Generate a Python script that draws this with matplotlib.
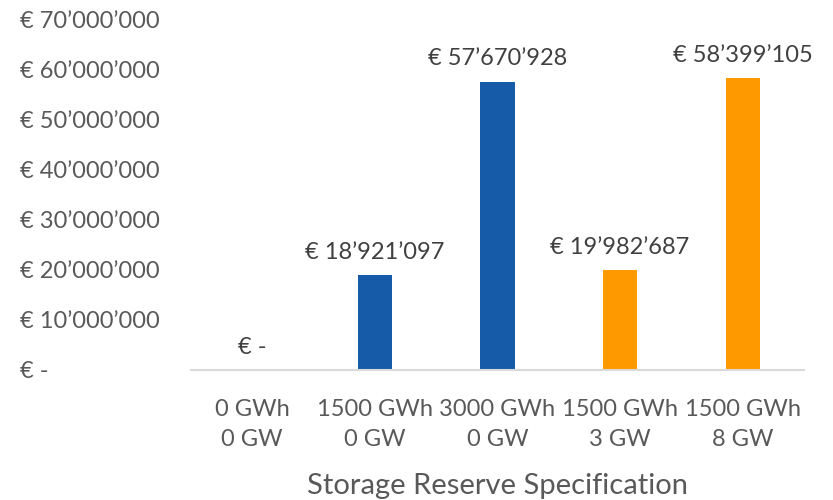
import matplotlib
matplotlib.use("Agg")
import matplotlib.pyplot as plt
from matplotlib.ticker import FuncFormatter

categories = ["0 GWh\n0 GW", "1500 GWh\n0 GW", "3000 GWh\n0 GW", "1500 GWh\n3 GW", "1500 GWh\n8 GW"]
values = [0, 18921097, 57670928, 19982687, 58399105]
colors = ["#155BA8", "#155BA8", "#155BA8", "#FF9900", "#FF9900"]
yticks = [0, 10000000, 20000000, 30000000, 40000000, 50000000, 60000000, 70000000]

plt.rcParams['font.family'] = ['Lato', 'DejaVu Sans']

def fmt(v):
    if v == 0:
        return "€ -"
    return "€ " + f"{int(round(v)):,}".replace(",", "\u2019")

fig = plt.figure(figsize=(8.33, 5), dpi=100)
ax = fig.add_axes([191/833, 1-370/500, (804-191)/833, 350/500])

x = range(len(categories))
ax.bar(x, values, width=0.28, color=colors)
ax.set_xlim(-0.5, len(categories) - 0.5)
ax.set_ylim(0, 70000000)
ax.set_yticks(yticks)
ax.yaxis.set_major_formatter(FuncFormatter(lambda v, p: fmt(v)))
for lab in ax.get_yticklabels():
    lab.set_horizontalalignment('left')
ax.tick_params(axis='y', length=0, pad=(191-20)*0.72, labelsize=17, labelcolor='#595959')
ax.set_xticks(list(x))
ax.set_xticklabels(categories, fontsize=17, color='#595959', linespacing=1.5)
ax.tick_params(axis='x', length=0, pad=21)

for s in ['top', 'right', 'left']:
    ax.spines[s].set_visible(False)
ax.spines['bottom'].set_color('#D9D9D9')
ax.spines['bottom'].set_linewidth(1.5)

for i, v in enumerate(values):
    ax.annotate(fmt(v), (i, v), xytext=(0, 9), textcoords='offset points',
                ha='center', va='bottom', fontsize=17, color='#404040')

ax.set_xlabel("Storage Reserve Specification", fontsize=21, color='#595959', labelpad=17)

fig.savefig("out.png", dpi=100)
